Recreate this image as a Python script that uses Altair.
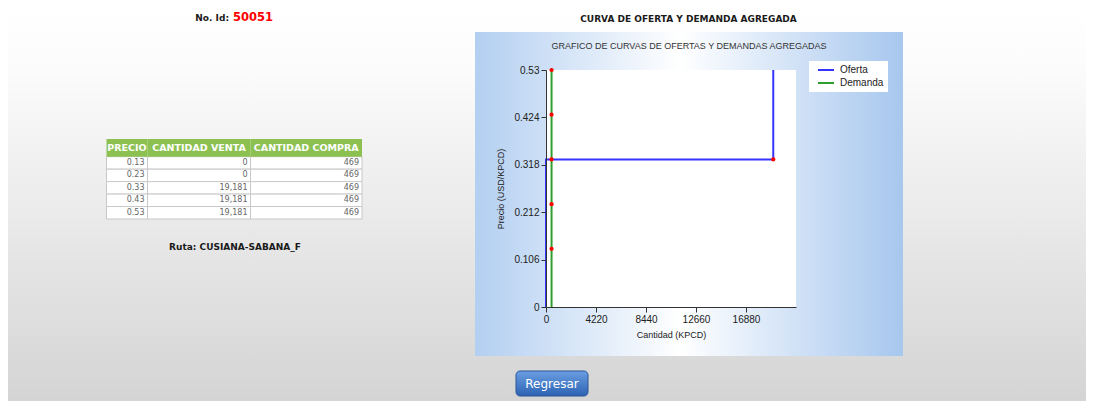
import altair as alt
import pandas as pd

# ---------------- data ----------------
precio = [0.13, 0.23, 0.33, 0.43, 0.53]
cantidad_venta = [0, 0, 19181, 19181, 19181]
cantidad_compra = [469, 469, 469, 469, 469]
series = ["Oferta", "Demanda"]
x_ticks = [0, 4220, 8440, 12660, 16880]
y_ticks = [0, 0.106, 0.212, 0.318, 0.424, 0.53]
x_max = 21100
y_max = 0.53
header = ["PRECIO", "CANTIDAD VENTA", "CANTIDAD COMPRA"]
id_label = "No. Id:"
id_value = "50051"
ruta = "Ruta: CUSIANA-SABANA_F"
page_title = "CURVA DE OFERTA Y DEMANDA AGREGADA"
chart_title = "GRAFICO DE CURVAS DE OFERTAS Y DEMANDAS AGREGADAS"
button_label = "Regresar"

BLUE = "#3535ff"
GREEN = "#2f9e2f"

# supply step curve (vertical first, then horizontal)
rows = [(0, 0.0)]
prev = cantidad_venta[0]
for p, v in zip(precio, cantidad_venta):
    if v != prev:
        rows.append((prev, p))
    rows.append((v, p))
    prev = v
lines = [dict(x=a, y=b, serie="Oferta", order=i) for i, (a, b) in enumerate(rows)]
dem = [(cantidad_compra[0], 0.0)] + list(zip(cantidad_compra, precio))
lines += [dict(x=a, y=b, serie="Demanda", order=i) for i, (a, b) in enumerate(dem)]
lines_df = pd.DataFrame(lines)

marks = [dict(x=c, y=p) for c, p in zip(cantidad_compra, precio)]
prev = cantidad_venta[0]
for p, v in zip(precio, cantidad_venta):
    if v != prev:
        marks.append(dict(x=v, y=p))
    prev = v
pts_df = pd.DataFrame(marks)

# table cells
cells = []
for i, (p, v, c) in enumerate(zip(precio, cantidad_venta, cantidad_compra)):
    for j, t in enumerate([f"{p:.2f}", f"{v:,}", f"{c:,}"]):
        cells.append(dict(c0=j, c1=j + 1, r0=i, r1=i + 1, rm=i + 0.5, txt=t))
cells_df = pd.DataFrame(cells)
head_df = pd.DataFrame([dict(c0=j, c1=j + 1, cm=j + 0.5, r0=-1, r1=0, rm=-0.5, txt=h)
                        for j, h in enumerate(header)])

one = pd.DataFrame({"k": [0]})

# ---------------- decoration ----------------
page_bg = alt.Chart(one).mark_rect(
    fill=alt.LinearGradient(gradient="linear", x1=0, y1=0, x2=0, y2=1,
                            stops=[alt.GradientStop(offset=0, color="#ffffff"),
                                   alt.GradientStop(offset=0.14, color="#fcfcfc"),
                                   alt.GradientStop(offset=1, color="#d3d3d3")])
).encode(x=alt.value(-538), x2=alt.value(540), y=alt.value(-62), y2=alt.value(341))

panel = alt.Chart(one).mark_rect(
    fill=alt.LinearGradient(gradient="linear", x1=0, y1=0, x2=1, y2=0,
                            stops=[alt.GradientStop(offset=0, color="#b3cff1"),
                                   alt.GradientStop(offset=0.48, color="#ffffff"),
                                   alt.GradientStop(offset=1, color="#a7c7ee")])
).encode(x=alt.value(-71), x2=alt.value(357), y=alt.value(-38), y2=alt.value(286))

plot_white = alt.Chart(one).mark_rect(fill="white").encode(
    x=alt.value(0), x2=alt.value(250), y=alt.value(0), y2=alt.value(237))

legend_box = alt.Chart(one).mark_rect(fill="white").encode(
    x=alt.value(263), x2=alt.value(342), y=alt.value(-9), y2=alt.value(22))


def txt(s, x, y, size, color="#222", weight="normal", font="DejaVu Sans", align="center"):
    return alt.Chart(one).mark_text(
        text=s, font=font, fontSize=size, fontWeight=weight, color=color,
        align=align, baseline="middle"
    ).encode(x=alt.value(x), y=alt.value(y))


t_id = txt(id_label, -317, -52, 9, color="#1a1a1a", weight="bold", align="right")
t_idv = txt(id_value, -313, -52, 11.5, color="#ff0000", weight="bold", align="left")
t_ruta = txt(ruta, -311, 177, 9, color="#1a1a1a", weight="bold")
t_ptitle = txt(page_title, 142.5, -51, 9, color="#1a1a1a", weight="bold")
t_ctitle = txt(chart_title, 143, -24, 9, color="#333333", font="Liberation Sans")

button = alt.Chart(one).mark_rect(
    cornerRadius=4, stroke="#2a5596", strokeWidth=1,
    fill=alt.LinearGradient(gradient="linear", x1=0, y1=0, x2=0, y2=1,
                            stops=[alt.GradientStop(offset=0, color="#6a9fe3"),
                                   alt.GradientStop(offset=1, color="#2d62b3")])
).encode(x=alt.value(-30), x2=alt.value(42), y=alt.value(301), y2=alt.value(326))
t_button = txt(button_label, 6, 313.5, 12, color="white")

# ---------------- table ----------------
xs = alt.Scale(domain=[0, 1, 2, 3], range=[-439.5, -398.5, -295.5, -184], zero=False, nice=False)
ys = alt.Scale(domain=[-1, 0, 5], range=[69, 86.7, 149], zero=False, nice=False)

cell_rect = alt.Chart(cells_df).mark_rect(fill="white", stroke="#c8c8c8", strokeWidth=1).encode(
    x=alt.X("c0:Q", scale=xs, axis=None), x2="c1:Q",
    y=alt.Y("r0:Q", scale=ys, axis=None), y2="r1:Q")
cell_txt = alt.Chart(cells_df).mark_text(
    align="right", baseline="middle", dx=-3, font="DejaVu Sans", fontSize=8, color="#666666"
).encode(x=alt.X("c1:Q", scale=xs, axis=None), y=alt.Y("rm:Q", scale=ys, axis=None), text="txt:N")
head_rect = alt.Chart(head_df).mark_rect(fill="#8cc152").encode(
    x=alt.X("c0:Q", scale=xs, axis=None), x2="c1:Q",
    y=alt.Y("r0:Q", scale=ys, axis=None), y2="r1:Q")
head_txt = alt.Chart(head_df).mark_text(
    align="center", baseline="middle", font="DejaVu Sans", fontSize=9.5, fontWeight="bold", color="white"
).encode(x=alt.X("cm:Q", scale=xs, axis=None), y=alt.Y("rm:Q", scale=ys, axis=None), text="txt:N")
table = alt.layer(cell_rect, head_rect, cell_txt, head_txt)

# ---------------- main chart ----------------
axis_common = dict(grid=False, domainColor="#333333", tickColor="#333333", tickSize=5,
                   labelFont="Liberation Sans", labelFontSize=10, labelColor="#222222",
                   labelPadding=2, titleFont="Liberation Sans", titleFontSize=9,
                   titleFontWeight="normal", titleColor="#222222", labelFlush=False,
                   labelOverlap=False, zindex=1)
xsc = alt.Scale(domain=[0, x_max], nice=False, zero=True)
ysc = alt.Scale(domain=[0, y_max], nice=False, zero=True)

line = alt.Chart(lines_df).mark_line(strokeWidth=2).encode(
    x=alt.X("x:Q", scale=xsc, axis=alt.Axis(values=x_ticks, format="d", title="Cantidad (KPCD)",
                                             titlePadding=6, **axis_common)),
    y=alt.Y("y:Q", scale=ysc, axis=alt.Axis(values=y_ticks, format=".3~f", title="Precio (USD/KPCD)",
                                             titlePadding=8, **axis_common)),
    color=alt.Color("serie:N", scale=alt.Scale(domain=series, range=[BLUE, GREEN]),
                    legend=alt.Legend(orient="none", legendX=274, legendY=-6, title=None,
                                      padding=0, symbolType="M-1.6,0L1.6,0", symbolSize=100,
                                      symbolStrokeWidth=2, labelOffset=8, rowPadding=2,
                                      labelFont="Liberation Sans", labelFontSize=10,
                                      labelColor="#222222")),
    order=alt.Order("order:Q"))

points = alt.Chart(pts_df).mark_circle(size=18, color="#ff0000", opacity=1).encode(
    x=alt.X("x:Q"), y=alt.Y("y:Q"))

main = alt.layer(line, points)

chart = alt.layer(
    page_bg, panel, plot_white, legend_box,
    t_id, t_idv, t_ruta, t_ptitle, t_ctitle, button, t_button,
    table, main
).resolve_scale(x="independent", y="independent").properties(
    width=250, height=237,
    autosize=alt.AutoSizeParams(type="none"),
    padding={"left": 538, "top": 62, "right": 290, "bottom": 94},
    background="white"
).configure_view(stroke="transparent")

chart.save("out.html", embed_options={"renderer": "svg", "actions": False})
